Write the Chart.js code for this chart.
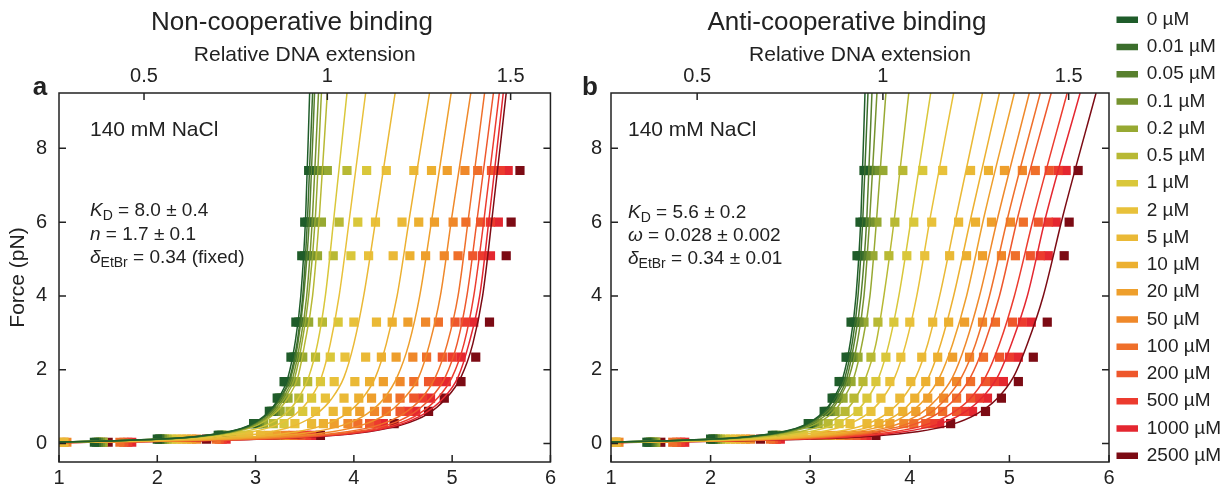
<!DOCTYPE html>
<html>
<head>
<meta charset="utf-8">
<script src="https://cdn.jsdelivr.net/npm/chart.js@4.4.1/dist/chart.umd.min.js"></script>
<style>
  body { margin: 0; background: #fff; overflow: hidden; }
  #wrap { position: relative; width: 1227px; height: 490px; overflow: hidden; }
  canvas { position: absolute; top: 0; }
  #panelA { left: 0; }
  #panelB { left: 560px; }
</style>
</head>
<body>
<div id="wrap">
  <canvas id="panelA" width="560" height="490"></canvas>
  <canvas id="panelB" width="700" height="490"></canvas>
</div>
<script>
// EtBr concentrations and their colours
var CONC = ['0 µM', '0.01 µM', '0.05 µM', '0.1 µM', '0.2 µM', '0.5 µM', '1 µM', '2 µM', '5 µM',
  '10 µM', '20 µM', '50 µM', '100 µM', '200 µM', '500 µM', '1000 µM', '2500 µM'];
var COLORS = ['#1f5c2a', '#3b6e2c', '#58802e', '#76932f', '#97a932', '#b8b934', '#d9c73a', '#e8c13a',
  '#eab936', '#ecb030', '#ee9f2c', '#ef882a', '#ef6f2a', '#ee572c', '#ec3b2e', '#e42730', '#7c0b14'];

// measured extension (um) at each force plateau (pN)
var DATA_FORCE = [0.035, 0.12, 0.22, 0.54, 0.87, 1.23, 1.68, 2.34, 3.29, 5.09, 6.0, 7.4];
var DATA_EXT = [
  [1.36, 2.00, 2.62, 2.98, 3.14, 3.22, 3.29, 3.36, 3.41, 3.47, 3.50, 3.54],
  [1.38, 2.02, 2.63, 3.00, 3.16, 3.24, 3.31, 3.39, 3.44, 3.50, 3.53, 3.57],
  [1.40, 2.03, 2.65, 3.02, 3.18, 3.26, 3.33, 3.41, 3.46, 3.53, 3.56, 3.60],
  [1.42, 2.05, 2.66, 3.04, 3.20, 3.28, 3.36, 3.43, 3.49, 3.56, 3.60, 3.65],
  [1.44, 2.07, 2.69, 3.08, 3.25, 3.33, 3.41, 3.48, 3.54, 3.63, 3.67, 3.73],
  [1.45, 2.10, 2.76, 3.18, 3.35, 3.44, 3.53, 3.61, 3.68, 3.79, 3.85, 3.93],
  [1.42, 2.15, 2.85, 3.29, 3.48, 3.57, 3.66, 3.76, 3.84, 3.97, 4.04, 4.13],
  [1.40, 2.20, 2.93, 3.40, 3.61, 3.71, 3.80, 3.91, 4.00, 4.15, 4.22, 4.33],
  [1.05, 2.25, 3.05, 3.57, 3.79, 3.90, 4.01, 4.12, 4.23, 4.40, 4.49, 4.61],
  [1.02, 2.30, 3.13, 3.69, 3.93, 4.05, 4.16, 4.28, 4.39, 4.57, 4.66, 4.79],
  [1.05, 2.35, 3.21, 3.80, 4.06, 4.18, 4.30, 4.43, 4.55, 4.73, 4.82, 4.95],
  [1.08, 2.40, 3.30, 3.94, 4.21, 4.34, 4.47, 4.60, 4.73, 4.92, 5.01, 5.13],
  [1.62, 2.60, 3.38, 4.04, 4.33, 4.47, 4.61, 4.74, 4.86, 5.06, 5.14, 5.26],
  [1.66, 2.63, 3.46, 4.16, 4.47, 4.61, 4.76, 4.90, 5.03, 5.21, 5.29, 5.40],
  [1.70, 2.66, 3.52, 4.23, 4.55, 4.70, 4.85, 5.00, 5.13, 5.31, 5.39, 5.49],
  [1.74, 2.70, 3.57, 4.30, 4.63, 4.78, 4.94, 5.09, 5.22, 5.39, 5.47, 5.57],
  [1.50, 2.50, 3.66, 4.41, 4.76, 4.92, 5.09, 5.24, 5.38, 5.55, 5.60, 5.69]
];

// fitted curves: extension (um) at these forces (pN)
var FIT_FORCE = [0.02, 0.04, 0.07, 0.12, 0.2, 0.32, 0.5, 0.8, 1.2, 1.8, 2.7, 4, 6.2, 9.5];
var FIT_NONCOOP = [
  [0.56, 1.01, 1.49, 2.01, 2.42, 2.72, 2.94, 3.11, 3.23, 3.33, 3.40, 3.46, 3.51, 3.55],
  [0.56, 1.01, 1.50, 2.02, 2.43, 2.73, 2.95, 3.12, 3.24, 3.35, 3.42, 3.48, 3.53, 3.58],
  [0.56, 1.02, 1.50, 2.02, 2.44, 2.74, 2.96, 3.13, 3.25, 3.36, 3.43, 3.49, 3.55, 3.60],
  [0.57, 1.02, 1.51, 2.03, 2.45, 2.75, 2.98, 3.15, 3.27, 3.38, 3.45, 3.52, 3.58, 3.64],
  [0.57, 1.03, 1.52, 2.05, 2.46, 2.77, 2.99, 3.17, 3.29, 3.40, 3.47, 3.54, 3.61, 3.67],
  [0.57, 1.04, 1.53, 2.06, 2.48, 2.79, 3.02, 3.19, 3.32, 3.43, 3.50, 3.58, 3.65, 3.73],
  [0.59, 1.07, 1.58, 2.13, 2.56, 2.88, 3.11, 3.30, 3.43, 3.54, 3.63, 3.71, 3.80, 3.93],
  [0.61, 1.10, 1.63, 2.20, 2.65, 2.97, 3.21, 3.41, 3.55, 3.67, 3.76, 3.85, 3.96, 4.12],
  [0.65, 1.17, 1.73, 2.33, 2.81, 3.16, 3.41, 3.62, 3.77, 3.90, 4.00, 4.10, 4.23, 4.42],
  [0.70, 1.27, 1.87, 2.52, 3.04, 3.42, 3.69, 3.92, 4.08, 4.22, 4.33, 4.44, 4.57, 4.77],
  [0.74, 1.34, 1.97, 2.66, 3.20, 3.60, 3.89, 4.13, 4.30, 4.44, 4.56, 4.67, 4.80, 4.99],
  [0.78, 1.40, 2.07, 2.79, 3.36, 3.78, 4.08, 4.33, 4.50, 4.66, 4.77, 4.88, 5.00, 5.19],
  [0.81, 1.46, 2.15, 2.90, 3.49, 3.93, 4.25, 4.50, 4.68, 4.83, 4.95, 5.06, 5.17, 5.33],
  [0.83, 1.49, 2.20, 2.96, 3.57, 4.01, 4.34, 4.59, 4.77, 4.93, 5.05, 5.15, 5.26, 5.42],
  [0.84, 1.51, 2.23, 3.01, 3.62, 4.07, 4.40, 4.66, 4.84, 5.00, 5.12, 5.22, 5.33, 5.48],
  [0.85, 1.53, 2.25, 3.04, 3.66, 4.12, 4.45, 4.71, 4.90, 5.06, 5.17, 5.28, 5.38, 5.52],
  [0.85, 1.54, 2.27, 3.07, 3.69, 4.15, 4.48, 4.75, 4.93, 5.09, 5.21, 5.31, 5.41, 5.55]
];
var FIT_ANTICOOP = [
  [0.56, 1.01, 1.49, 2.01, 2.42, 2.72, 2.94, 3.11, 3.23, 3.33, 3.40, 3.46, 3.51, 3.55],
  [0.56, 1.01, 1.50, 2.02, 2.43, 2.73, 2.95, 3.12, 3.24, 3.35, 3.42, 3.48, 3.53, 3.58],
  [0.57, 1.02, 1.50, 2.03, 2.44, 2.75, 2.97, 3.14, 3.27, 3.37, 3.44, 3.51, 3.57, 3.62],
  [0.57, 1.03, 1.52, 2.04, 2.46, 2.77, 2.99, 3.17, 3.29, 3.39, 3.47, 3.54, 3.60, 3.67],
  [0.58, 1.04, 1.53, 2.07, 2.49, 2.80, 3.03, 3.21, 3.33, 3.44, 3.52, 3.60, 3.67, 3.76],
  [0.60, 1.07, 1.58, 2.14, 2.57, 2.89, 3.13, 3.32, 3.45, 3.56, 3.66, 3.74, 3.85, 3.99],
  [0.62, 1.11, 1.64, 2.21, 2.66, 2.99, 3.23, 3.43, 3.57, 3.69, 3.79, 3.89, 4.02, 4.21],
  [0.64, 1.15, 1.70, 2.30, 2.77, 3.11, 3.36, 3.57, 3.72, 3.85, 3.96, 4.07, 4.21, 4.44],
  [0.67, 1.22, 1.79, 2.42, 2.91, 3.27, 3.54, 3.76, 3.92, 4.06, 4.18, 4.30, 4.47, 4.73],
  [0.70, 1.25, 1.85, 2.49, 3.00, 3.38, 3.65, 3.88, 4.04, 4.19, 4.31, 4.44, 4.62, 4.90],
  [0.71, 1.29, 1.90, 2.56, 3.08, 3.47, 3.75, 3.98, 4.15, 4.30, 4.43, 4.57, 4.75, 5.05],
  [0.73, 1.32, 1.95, 2.64, 3.17, 3.57, 3.85, 4.10, 4.27, 4.43, 4.56, 4.70, 4.89, 5.20],
  [0.75, 1.35, 2.00, 2.69, 3.24, 3.64, 3.94, 4.19, 4.36, 4.52, 4.66, 4.80, 4.99, 5.31],
  [0.77, 1.38, 2.04, 2.75, 3.31, 3.72, 4.02, 4.27, 4.45, 4.61, 4.75, 4.90, 5.09, 5.42],
  [0.79, 1.42, 2.10, 2.84, 3.41, 3.84, 4.15, 4.41, 4.60, 4.76, 4.90, 5.05, 5.25, 5.58],
  [0.81, 1.46, 2.16, 2.91, 3.50, 3.94, 4.26, 4.52, 4.71, 4.88, 5.02, 5.18, 5.37, 5.71],
  [0.84, 1.51, 2.23, 3.00, 3.62, 4.07, 4.40, 4.67, 4.87, 5.04, 5.18, 5.34, 5.54, 5.87]
];

var X_TICKS = [1, 2, 3, 4, 5, 6];
var Y_TICKS = [0, 2, 4, 6, 8];
var REL_TICKS = [0.5, 1, 1.5];
var CONTOUR_UM = 3.73;   // bare DNA contour length, relative extension = 1

var FONT = "'Liberation Sans', Arial, sans-serif";
Chart.defaults.font.family = FONT;
Chart.defaults.color = '#222';

var LEGEND_FONT = 19;
var LEGEND_PAD = 8.25;
var LEGEND_BOX = 20;
var PLOT_RIGHT_B = 549;  // right edge of panel b plot, in its canvas

// right padding so the legend column sits just right of the panel b frame
function legendPadRight(canvasWidth) {
  var c = document.createElement('canvas').getContext('2d');
  c.font = LEGEND_FONT + 'px ' + FONT;
  var w = 0;
  CONC.forEach(function (t) { w = Math.max(w, c.measureText(t).width); });
  var legendWidth = LEGEND_PAD + LEGEND_BOX + LEGEND_FONT / 2 + w + 10;
  return canvasWidth - PLOT_RIGHT_B - legendWidth;
}

function buildDatasets(fits) {
  var sets = [];
  fits.forEach(function (ext, i) {
    sets.push({
      label: CONC[i],
      data: ext.map(function (x, j) { return { x: x, y: FIT_FORCE[j] }; }),
      showLine: true,
      borderColor: COLORS[i],
      backgroundColor: COLORS[i],
      borderWidth: 1.5,
      pointRadius: 0,
      cubicInterpolationMode: 'monotone',
      clip: 0,
      order: 1
    });
  });
  DATA_EXT.forEach(function (ext, i) {
    sets.push({
      label: CONC[i] + ' data',
      data: ext.map(function (x, j) { return { x: x, y: DATA_FORCE[j] }; }),
      showLine: false,
      pointStyle: 'rect',
      pointRadius: 6.5,
      backgroundColor: COLORS[i],
      borderWidth: 0,
      clip: 0,
      order: 2
    });
  });
  return sets;
}

// frame, inward ticks, panel letter, title and fit parameters
var decor = {
  id: 'decor',
  afterDraw: function (chart, args, o) {
    var ctx = chart.ctx, a = chart.chartArea, s = chart.scales;
    ctx.save();
    ctx.strokeStyle = '#222';
    ctx.lineWidth = 1.5;
    ctx.strokeRect(a.left, a.top, a.right - a.left, a.bottom - a.top);
    ctx.beginPath();
    X_TICKS.forEach(function (v) {
      var px = s.x.getPixelForValue(v);
      ctx.moveTo(px, a.bottom); ctx.lineTo(px, a.bottom - 7);
    });
    REL_TICKS.forEach(function (v) {
      var px = s.rel.getPixelForValue(v);
      ctx.moveTo(px, a.top); ctx.lineTo(px, a.top + 7);
    });
    Y_TICKS.forEach(function (v) {
      var py = s.y.getPixelForValue(v);
      ctx.moveTo(a.left, py); ctx.lineTo(a.left + 7, py);
      ctx.moveTo(a.right, py); ctx.lineTo(a.right - 7, py);
    });
    ctx.stroke();

    ctx.fillStyle = '#222';
    ctx.textBaseline = 'middle';
    ctx.textAlign = 'center';
    ctx.font = '26px ' + FONT;
    ctx.fillText(o.title, o.titleX, 23);
    ctx.font = 'bold 26px ' + FONT;
    ctx.fillText(o.letter, o.letterX, 88);

    ctx.textAlign = 'left';
    ctx.font = '21px ' + FONT;
    ctx.fillText('140 mM NaCl', o.textX, 130);
    o.params.forEach(function (row) {
      var x = o.textX;
      row.parts.forEach(function (p) {
        var size = p.sub ? 14 : 19;
        ctx.font = (p.it ? 'italic ' : '') + size + 'px ' + FONT;
        ctx.fillText(p.t, x, row.y + (p.sub ? 5 : 0));
        x += ctx.measureText(p.t).width;
      });
    });
    ctx.restore();
  }
};

function makeOptions(cfg) {
  var top = cfg.padTop;
  return {
    responsive: false,
    animation: false,
    events: [],
    layout: { padding: { left: 0, right: cfg.padRight, top: top, bottom: 0 } },
    scales: {
      x: {
        type: 'linear', position: 'bottom', min: 1, max: 6,
        grid: { display: false, drawTicks: false }, border: { display: false },
        ticks: { font: { size: 20 }, padding: 4, autoSkip: false, maxRotation: 0 },
        afterBuildTicks: function (sc) { sc.ticks = X_TICKS.map(function (v) { return { value: v }; }); },
        afterFit: function (sc) { sc.height = 28; }
      },
      rel: {
        type: 'linear', position: 'top', axis: 'x',
        min: 1 / CONTOUR_UM, max: 6 / CONTOUR_UM,
        grid: { display: false, drawTicks: false }, border: { display: false },
        title: { display: true, text: 'Relative DNA extension', font: { size: 21 }, padding: { top: 42.4 - top, bottom: 0 } },
        ticks: {
          font: { size: 20 }, padding: 5, autoSkip: false, maxRotation: 0,
          callback: function (v) { return String(v); }
        },
        afterBuildTicks: function (sc) { sc.ticks = REL_TICKS.map(function (v) { return { value: v }; }); },
        afterFit: function (sc) { sc.height = 93 - top; }
      },
      y: {
        type: 'linear', position: 'left', min: -0.5, max: 9.5,
        grid: { display: false, drawTicks: false }, border: { display: false },
        title: { display: cfg.yTitle, text: 'Force (pN)', font: { size: 21 }, padding: { top: 6, bottom: 0 } },
        ticks: { font: { size: 20 }, padding: cfg.yPad },
        afterBuildTicks: function (sc) { sc.ticks = Y_TICKS.map(function (v) { return { value: v }; }); },
        afterFit: function (sc) { sc.width = cfg.yWidth; }
      }
    },
    plugins: {
      tooltip: { enabled: false },
      legend: cfg.legend,
      decor: cfg.decor
    }
  };
}

new Chart(document.getElementById('panelA'), {
  type: 'scatter',
  data: { datasets: buildDatasets(FIT_NONCOOP) },
  options: makeOptions({
    padRight: 3, padTop: 0, yWidth: 59, yPad: 12, yTitle: true,
    legend: { display: false },
    decor: {
      title: 'Non-cooperative binding', titleX: 292, letter: 'a', letterX: 40, textX: 90,
      params: [
        { y: 211, parts: [{ t: 'K', it: true }, { t: 'D', sub: true }, { t: ' = 8.0 ± 0.4' }] },
        { y: 235, parts: [{ t: 'n', it: true }, { t: ' = 1.7 ± 0.1' }] },
        { y: 258, parts: [{ t: 'δ', it: true }, { t: 'EtBr', sub: true }, { t: ' = 0.34 (fixed)' }] }
      ]
    }
  }),
  plugins: [decor]
});

var canvasB = document.getElementById('panelB');
new Chart(canvasB, {
  type: 'scatter',
  data: { datasets: buildDatasets(FIT_ANTICOOP) },
  options: makeOptions({
    padRight: legendPadRight(canvasB.width), padTop: 2, yWidth: 51, yPad: 9, yTitle: false,
    legend: {
      display: true, position: 'right', align: 'start',
      labels: {
        boxWidth: LEGEND_BOX, boxHeight: 5, padding: LEGEND_PAD, color: '#222',
        font: { size: LEGEND_FONT },
        filter: function (item) { return item.datasetIndex < CONC.length; }
      }
    },
    decor: {
      title: 'Anti-cooperative binding', titleX: 287, letter: 'b', letterX: 30, textX: 68,
      params: [
        { y: 213, parts: [{ t: 'K', it: true }, { t: 'D', sub: true }, { t: ' = 5.6 ± 0.2' }] },
        { y: 236, parts: [{ t: 'ω', it: true }, { t: ' = 0.028 ± 0.002' }] },
        { y: 259, parts: [{ t: 'δ', it: true }, { t: 'EtBr', sub: true }, { t: ' = 0.34 ± 0.01' }] }
      ]
    }
  }),
  plugins: [decor]
});
</script>
</body>
</html>
